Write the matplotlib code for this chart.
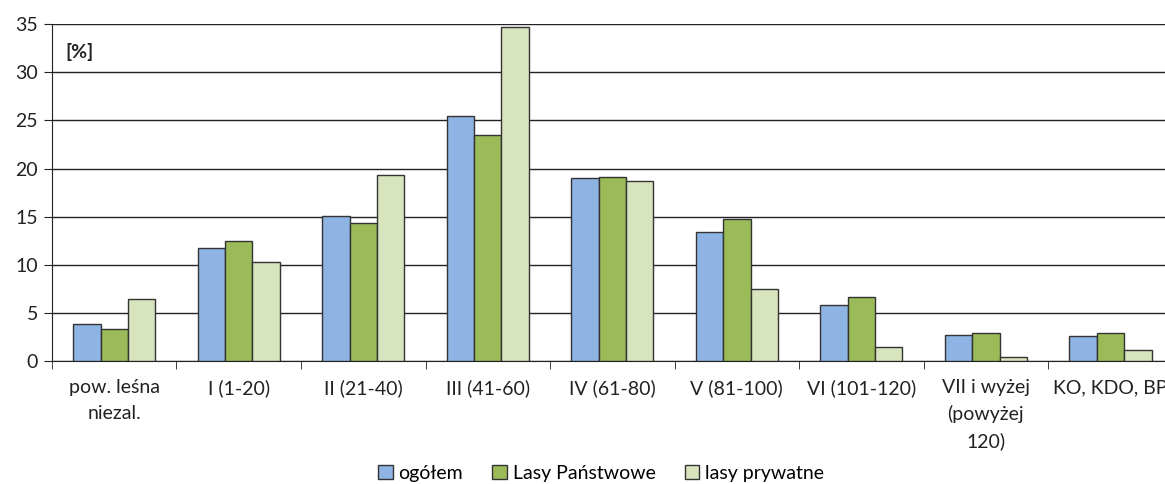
import matplotlib.pyplot as plt
import numpy as np

plt.rcParams['font.family'] = ['Lato', 'DejaVu Sans']

# Dane
categories = ['pow. leśna\nniezal.', 'I (1-20)', 'II (21-40)', 'III (41-60)', 'IV (61-80)',
              'V (81-100)', 'VI (101-120)', 'VII i wyżej\n(powyżej\n120)', 'KO, KDO, BP']
ogolem = [3.8, 11.7, 15.1, 25.5, 19.0, 13.4, 5.8, 2.7, 2.6]
lasy_panstwowe = [3.3, 12.5, 14.3, 23.5, 19.1, 14.8, 6.7, 2.9, 2.9]
lasy_prywatne = [6.5, 10.3, 19.3, 34.7, 18.7, 7.5, 1.5, 0.4, 1.1]

series_labels = ['ogółem', 'Lasy Państwowe', 'lasy prywatne']
colors = ['#8EB4E3', '#9BBB59', '#D7E4BD']

fig = plt.figure(figsize=(11.65, 4.84), dpi=100)
ax = fig.add_axes([0.0446, 0.254, 0.962, 0.696])

index = np.arange(len(categories))
bar_width = 0.22

for i, (vals, lab, col) in enumerate(zip([ogolem, lasy_panstwowe, lasy_prywatne], series_labels, colors)):
    ax.bar(index + (i - 1) * bar_width, vals, bar_width, color=col, edgecolor='#333333',
           linewidth=1, label=lab, zorder=3)

ax.set_xlim(-0.5, len(categories) - 0.5)
ax.set_ylim(0, 35)
ax.set_yticks(np.arange(0, 36, 5))
ax.yaxis.grid(True, color='#222222', linewidth=1, zorder=0)
ax.set_axisbelow(True)

fs = 14
ax.set_xticks(index)
ax.set_xticklabels(categories, fontsize=fs, color='#222222', linespacing=1.6)
ax.set_xticks(np.arange(-0.5, len(categories), 1), minor=True)
ax.tick_params(axis='x', which='major', length=0, pad=13)
ax.tick_params(axis='x', which='minor', length=6, color='#222222', direction='out')
ax.tick_params(axis='y', length=6, labelsize=fs, labelcolor='#222222', color='#222222', pad=4)

for s in ['top', 'right']:
    ax.spines[s].set_visible(False)
ax.spines['left'].set_color('#222222')
ax.spines['bottom'].set_color('#222222')

ax.text(0.012, 0.90, '[%]', transform=ax.transAxes, fontsize=fs, fontweight='bold', color='#222222')

ax.legend(loc='lower center', bbox_to_anchor=(0.49, -0.41), ncol=3, frameon=False,
          fontsize=fs, handlelength=0.75, handleheight=0.75, handletextpad=0.3, columnspacing=1.5)

plt.savefig('out.png', dpi=100)
